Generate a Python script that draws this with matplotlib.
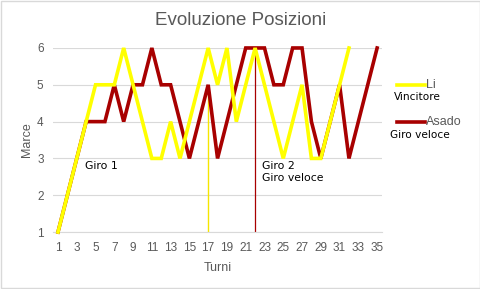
import matplotlib
matplotlib.use("Agg")
import matplotlib.pyplot as plt
from matplotlib.lines import Line2D
from matplotlib.patches import Rectangle

turns = list(range(1, 36))
li = [1, 2, 3, 4, 5, 5, 5, 6, 5, 4, 3, 3, 4, 3, 4, 5, 6, 5, 6, 4, 5, 6, 5, 4, 3, 4, 5, 3, 3, 4, 5, 6]
asado = [1, 2, 3, 4, 4, 4, 5, 4, 5, 5, 6, 5, 5, 4, 3, 4, 5, 3, 4, 5, 6, 6, 6, 5, 5, 6, 6, 4, 3, 4, 5, 3, 4, 5, 6]
xticks = list(range(1, 36, 2))
yticks = [1, 2, 3, 4, 5, 6]
li_mark = (17, 1, 5)      # turn, from, to
asado_mark = (22, 1, 6)

plt.rcParams['font.family'] = ['Liberation Sans', 'DejaVu Sans']
YEL = '#FFFF00'
RED = '#A80000'
GRAY = '#595959'

fig = plt.figure(figsize=(4.81, 2.89), dpi=100)
ax = fig.add_axes([0.1108, 0.197, 0.683, 0.637])

ax.plot(turns[:len(asado)], asado, color=RED, lw=2.6, zorder=3, clip_on=False,
        solid_joinstyle='miter')
ax.plot(turns[:len(li)], li, color=YEL, lw=2.6, zorder=4, clip_on=False,
        solid_joinstyle='miter')
ax.vlines(li_mark[0], li_mark[1], li_mark[2], color='#F5E600', lw=1.0, zorder=2)
ax.vlines(asado_mark[0], asado_mark[1], asado_mark[2], color=RED, lw=0.9, zorder=2)

ax.set_xlim(0.5, 35.5)
ax.set_ylim(1, 6)
ax.set_xticks(xticks)
ax.set_yticks(yticks)
ax.tick_params(length=0, labelsize=8.5, colors=GRAY, pad=7)
ax.grid(axis='y', color='#D9D9D9', lw=0.8)
for s in ['top', 'right', 'left']:
    ax.spines[s].set_visible(False)
ax.spines['bottom'].set_color('#D9D9D9')
ax.set_axisbelow(True)

ax.set_xlabel('Turni', fontsize=9, color=GRAY, labelpad=6)
ax.set_ylabel('Marce', fontsize=9, color=GRAY, labelpad=3)
fig.text(0.5, 0.929, 'Evoluzione Posizioni', ha='center', va='center',
         fontsize=13.5, color=GRAY)

ax.text(3.85, 2.79, 'Giro 1', fontsize=7.8, color='black', va='center',
        family=['DejaVu Sans'])
ax.text(22.75, 2.62, 'Giro 2\nGiro veloce', fontsize=7.8, color='black',
        family=['DejaVu Sans'], va='center', linespacing=1.25)

# legend
def fx(px):
    return px / 481.0
def fy(py):
    return 1 - py / 289.0

fig.add_artist(Line2D([fx(397), fx(425)], [fy(85), fy(85)], color=YEL, lw=2.6))
fig.text(fx(426), fy(85), 'Li', fontsize=9, color=GRAY, va='center')
fig.text(fx(394), fy(97.5), 'Vincitore', fontsize=7.6, color='black', va='center',
         family=['DejaVu Sans'])
fig.add_artist(Line2D([fx(397), fx(425)], [fy(122), fy(122)], color=RED, lw=2.6))
fig.text(fx(426), fy(122), 'Asado', fontsize=9, color=GRAY, va='center')
fig.text(fx(390), fy(135.5), 'Giro veloce', fontsize=7.6, color='black', va='center',
         family=['DejaVu Sans'])

fig.add_artist(Rectangle((0.002, 0.003), 0.995, 0.994, transform=fig.transFigure,
                         fill=False, edgecolor='#D9D9D9', lw=1))

fig.savefig('out.png', dpi=100)
